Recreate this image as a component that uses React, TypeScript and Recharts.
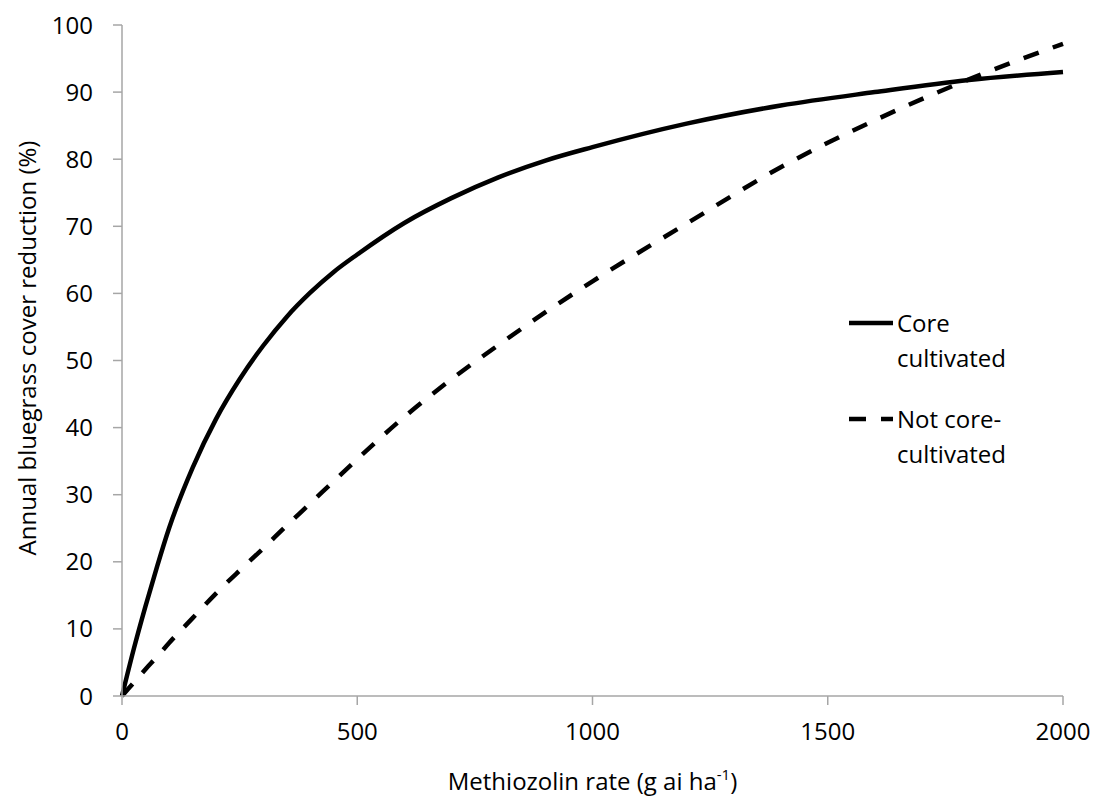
import React from 'react';
import { LineChart, Line, XAxis, YAxis, Legend } from 'recharts';

// methiozolin rate (g ai/ha)
const rates = [0, 25, 50, 75, 100, 150, 200, 250, 300, 350, 400, 450, 500, 600, 700, 800, 900, 1000, 1200, 1400, 1600, 1800, 2000];
// fitted cover reduction (%)
const coreCultivated = [0, 7.0, 13.4, 19.4, 25.0, 34.0, 41.3, 47.2, 52.2, 56.5, 60.1, 63.2, 65.8, 70.5, 74.2, 77.3, 79.8, 81.8, 85.3, 88.0, 90.0, 91.8, 93.0];
const notCoreCultivated = [0, 2.0, 4.0, 5.9, 7.9, 11.6, 15.3, 18.7, 22.0, 25.4, 28.7, 32.0, 35.3, 41.6, 47.2, 52.3, 57.2, 61.8, 70.4, 78.8, 85.8, 91.9, 97.2];

const xTicks = [0, 500, 1000, 1500, 2000];
const yTicks = [0, 10, 20, 30, 40, 50, 60, 70, 80, 90, 100];

const legendItems = [
  { lines: ['Core', 'cultivated'], dash: undefined },
  { lines: ['Not core-', 'cultivated'], dash: '17 15' },
];

const FONT = '"Open Sans", sans-serif';
const AXIS_GREY = '#a6a6a6';

const data = rates.map((r, i) => ({
  rate: r,
  core: coreCultivated[i],
  notCore: notCoreCultivated[i],
}));

const renderLegend = () => (
  <div style={{ fontFamily: FONT, fontSize: 24, color: '#000' }}>
    {legendItems.map((item, i) => (
      <div key={i} style={{ display: 'flex', alignItems: 'flex-start', marginBottom: i === 0 ? 26 : 0 }}>
        <svg width={48} height={35} style={{ display: 'block' }}>
          <line x1={0} y1={18} x2={44} y2={18} stroke="#000" strokeWidth={4.5} strokeDasharray={item.dash} />
        </svg>
        <div style={{ lineHeight: '35px' }}>
          {item.lines.map((t, j) => (
            <div key={j}>{t}</div>
          ))}
        </div>
      </div>
    ))}
  </div>
);

const XTitle = (props: any) => {
  const { viewBox } = props;
  const cx = viewBox.x + viewBox.width / 2;
  return (
    <text x={cx} y={viewBox.y + 94} textAnchor="middle" fontFamily={FONT} fontSize={24} fill="#000">
      Methiozolin rate (g ai ha
      <tspan dy={-10} fontSize={15}>-1</tspan>
      <tspan dy={10}>)</tspan>
    </text>
  );
};

const YTitle = () => (
  <text
    x={0}
    y={0}
    transform="translate(36, 348) rotate(-90)"
    textAnchor="middle"
    fontFamily={FONT}
    fontSize={24}
    fill="#000"
  >
    Annual bluegrass cover reduction (%)
  </text>
);

export default function App() {
  return (
    <div style={{ position: 'absolute', left: 0, top: 0, background: '#fff' }}>
      <LineChart width={1094} height={797} data={data} margin={{ top: 25, right: 31, left: 0, bottom: 0 }}>
        <XAxis
          dataKey="rate"
          type="number"
          domain={[0, 2000]}
          ticks={xTicks}
          height={101}
          stroke={AXIS_GREY}
          strokeWidth={1.5}
          tickSize={9}
          tickMargin={18}
          tick={{ fill: '#000', fontSize: 24, fontFamily: FONT }}
          label={<XTitle />}
        />
        <YAxis
          type="number"
          domain={[0, 100]}
          ticks={yTicks}
          width={122}
          stroke={AXIS_GREY}
          strokeWidth={1.5}
          tickSize={9}
          tickMargin={20}
          tick={{ fill: '#000', fontSize: 24, fontFamily: FONT }}
          label={<YTitle />}
        />
        <Legend
          content={renderLegend}
          verticalAlign="middle"
          wrapperStyle={{ position: 'absolute', left: 849, top: 305, width: 220, height: 160 }}
        />
        <Line
          type="monotone"
          dataKey="core"
          stroke="#000"
          strokeWidth={4.5}
          dot={false}
          activeDot={false}
          isAnimationActive={false}
        />
        <Line
          type="monotone"
          dataKey="notCore"
          stroke="#000"
          strokeWidth={4.5}
          strokeDasharray="16 15"
          dot={false}
          activeDot={false}
          isAnimationActive={false}
        />
      </LineChart>
    </div>
  );
}
